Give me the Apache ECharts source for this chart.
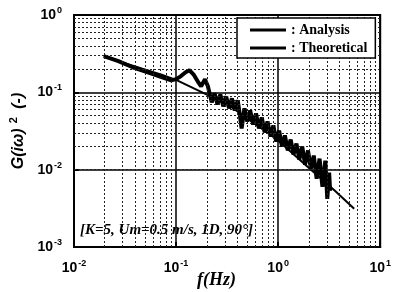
<!DOCTYPE html>
<html>
<head>
<meta charset="utf-8">
<script src="https://cdn.jsdelivr.net/npm/echarts@6/dist/echarts.min.js"></script>
<style>
  html, body { margin: 0; padding: 0; background: #fff; }
  #chart { width: 394px; height: 292px; }
</style>
</head>
<body>
<div id="chart"></div>
<script>
// measured spectrum (noisy)
const freqAnalysis = [0.0196, 0.0272, 0.0376, 0.0521, 0.0721, 0.0897, 0.1, 0.111, 0.124, 0.135, 0.148,
  0.165, 0.176, 0.192, 0.205,
  0.2234, 0.2383, 0.2547, 0.2716, 0.2897, 0.3095, 0.3304, 0.3524, 0.3758, 0.4018, 0.4198, 0.4385,
  0.468, 0.499, 0.532, 0.569, 0.607, 0.648, 0.691, 0.738, 0.787, 0.841, 0.898, 0.957, 1.022, 1.091,
  1.164, 1.242, 1.327, 1.416, 1.511, 1.613, 1.722, 1.837, 1.961, 2.093, 2.234, 2.384, 2.545, 2.716,
  2.899, 3.03, 3.16, 3.23];
const gAnalysis = [0.294, 0.253, 0.211, 0.182, 0.157, 0.143, 0.148, 0.161, 0.182, 0.193, 0.171,
  0.135, 0.12, 0.148, 0.12,
  0.0742, 0.0971, 0.0699, 0.0942, 0.0658, 0.0887, 0.062, 0.0836, 0.0583, 0.0787, 0.0533, 0.0341,
  0.062, 0.042, 0.0583, 0.0384, 0.0533, 0.0341, 0.0473, 0.0303, 0.042, 0.0268, 0.0373, 0.0231, 0.0321, 0.0199,
  0.0277, 0.0177, 0.0245, 0.0157, 0.0218, 0.0135, 0.0199, 0.0116, 0.0177, 0.0103, 0.0152, 0.00764, 0.0139, 0.00601,
  0.0131, 0.0042, 0.00914, 0.00533];

// theoretical curve
const freqTheory = [0.0196, 0.0303, 0.0468, 0.0721, 0.1, 0.172, 0.33, 0.569, 1.0, 1.88, 3.6, 5.56];
const gTheory = [0.294, 0.242, 0.202, 0.169, 0.145, 0.103, 0.0678, 0.0408, 0.0238, 0.0113, 0.00533, 0.00312];

const minorX = [0.02, 0.03, 0.04, 0.05, 0.06, 0.07, 0.08, 0.09, 0.2, 0.3, 0.4, 0.5, 0.6, 0.7, 0.8, 0.9,
  2, 3, 4, 5, 6, 7, 8, 9];
const minorY = [0.002, 0.003, 0.004, 0.005, 0.006, 0.007, 0.008, 0.009, 0.02, 0.03, 0.04, 0.05, 0.06, 0.07,
  0.08, 0.09, 0.2, 0.3, 0.4, 0.5, 0.6, 0.7, 0.8, 0.9];

const chart = echarts.init(document.getElementById('chart'));

const pow10 = v => '{b|10}{s|' + Math.round(Math.log10(v)) + '}';
const labelRich = {
  b: { fontFamily: 'Liberation Sans', fontWeight: 'bold', fontSize: 14, color: '#000' },
  s: { fontFamily: 'Liberation Sans', fontWeight: 'bold', fontSize: 9, color: '#000', padding: [0, 0, 9, 1] }
};

const gridLines = [
  ...minorX.map(v => ({ xAxis: v })),
  ...minorY.map(v => ({ yAxis: v }))
];

chart.setOption({
  animation: false,
  grid: { left: 69, right: 7, top: 15, bottom: 45, show: true, borderColor: '#000', borderWidth: 2 },
  xAxis: {
    type: 'log', min: 0.01, max: 10, logBase: 10,
    axisLine: { lineStyle: { color: '#000', width: 2 } },
    axisTick: { inside: true, length: 5, lineStyle: { color: '#000', width: 2 } },
    splitLine: { show: true, lineStyle: { color: '#000', width: 1.5 } },
    axisLabel: { margin: 12, formatter: pow10, rich: labelRich }
  },
  yAxis: {
    type: 'log', min: 0.001, max: 1, logBase: 10,
    name: '{t|G(iω)}{s|2}{t| (-)}',
    nameLocation: 'middle', nameGap: 45, nameRotate: 90,
    nameTextStyle: {
      rich: {
        t: { fontFamily: 'Liberation Sans', fontWeight: 'bold', fontStyle: 'italic', fontSize: 16, color: '#000' },
        s: { fontFamily: 'Liberation Sans', fontWeight: 'bold', fontSize: 11, color: '#000', padding: [0, 4, 10, 5] }
      }
    },
    axisLine: { lineStyle: { color: '#000', width: 2 } },
    axisTick: { inside: true, length: 5, lineStyle: { color: '#000', width: 2 } },
    splitLine: { show: true, lineStyle: { color: '#000', width: 1.5 } },
    axisLabel: { margin: 12, formatter: pow10, rich: labelRich }
  },
  legend: {
    data: ['Analysis', 'Theoretical'],
    orient: 'vertical', left: 237, top: 18, z: 50,
    backgroundColor: '#fff', borderColor: '#000', borderWidth: 1.5, borderRadius: 0,
    padding: [5, 8, 3, 13], itemGap: 4, itemWidth: 36, itemHeight: 3, icon: 'rect',
    itemStyle: { color: '#000', borderWidth: 0 },
    formatter: ': {name}',
    textStyle: { fontFamily: 'Liberation Serif', fontWeight: 'bold', fontSize: 14, lineHeight: 14, color: '#000' }
  },
  graphic: [
    {
      type: 'text', left: 80, top: 223, z: 50,
      style: { text: '[K=5, Um=0.5 m/s, 1D, 90°]', font: 'italic bold 15px "Liberation Serif"', fill: '#000' }
    },
    {
      type: 'text', left: 197, top: 271,
      style: { text: 'f(Hz)', font: 'italic bold 18px "Liberation Serif"', fill: '#000' }
    }
  ],
  series: [
    {
      name: 'grid', type: 'line', data: [], z: 1, silent: true,
      markLine: {
        silent: true, symbol: 'none', label: { show: false },
        lineStyle: { color: '#222', width: 1, type: [2, 2] },
        data: gridLines
      }
    },
    {
      name: 'Theoretical', type: 'line', symbol: 'none', z: 3,
      lineStyle: { color: '#000', width: 2 }, itemStyle: { color: '#000' },
      data: freqTheory.map((f, i) => [f, gTheory[i]])
    },
    {
      name: 'Analysis', type: 'line', symbol: 'none', z: 4,
      lineStyle: { color: '#000', width: 4 }, itemStyle: { color: '#000' },
      data: freqAnalysis.map((f, i) => [f, gAnalysis[i]])
    }
  ]
});
</script>
</body>
</html>
